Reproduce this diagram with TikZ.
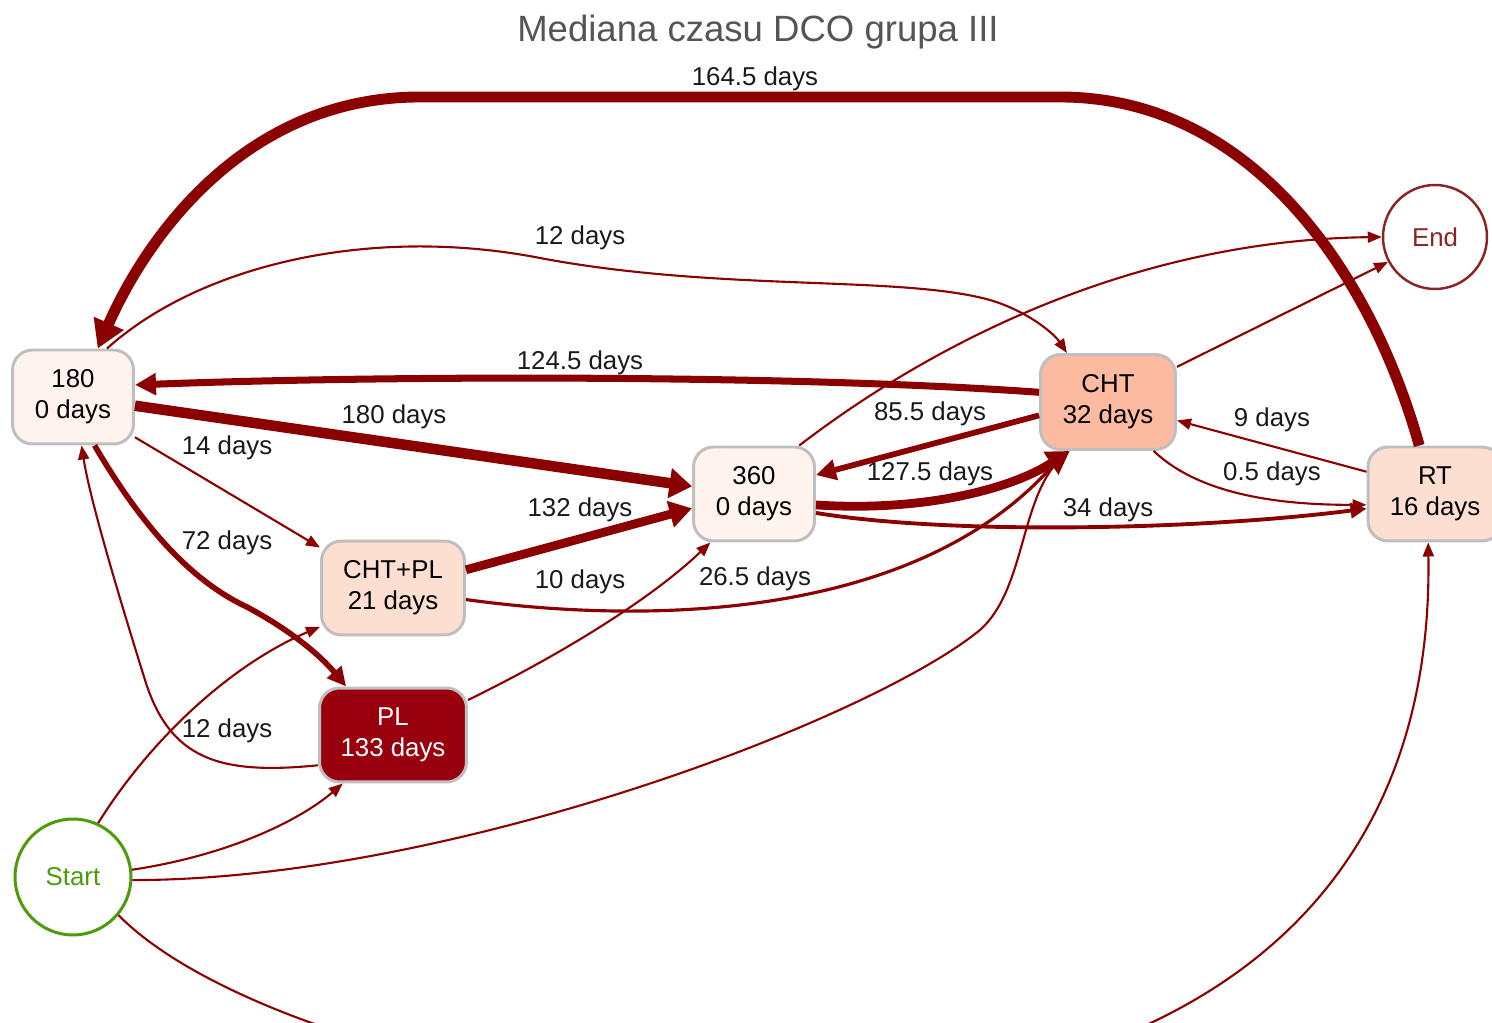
\documentclass[tikz,border=0pt]{standalone}
\usepackage{fontspec}
\setmainfont{Liberation Sans}
\usetikzlibrary{arrows.meta}
\definecolor{edgec}{HTML}{8B0000}
\definecolor{bordergray}{HTML}{BFBFBF}
\definecolor{fillA}{HTML}{FFF3EE}
\definecolor{fillB}{HTML}{FDDFD1}
\definecolor{fillC}{HTML}{FCBAA0}
\definecolor{fillD}{HTML}{99000D}
\definecolor{startgreen}{HTML}{4E9A0A}
\definecolor{endred}{HTML}{8B2525}
\definecolor{titlegray}{HTML}{555555}
\definecolor{labc}{HTML}{1A1A1A}
\newcommand{\nfont}{\fontsize{14.7}{17.6}\selectfont}
\tikzset{
  box/.style={draw=bordergray, line width=1.7pt, rounded corners=0.4cm, minimum width=2.42cm, minimum height=1.88cm, align=center, font=\nfont, inner sep=0pt},
  circ/.style={circle, line width=1.7pt, font=\nfont, inner sep=0pt},
  lab/.style={font=\nfont, text=labc, inner sep=1pt},
  e/.style={draw=edgec, line width=1.2pt, -{Triangle[length=0.28cm,width=0.22cm]}},
  em/.style={draw=edgec, line width=3.3pt, -{Triangle[length=0.4cm,width=0.4cm]}},
  eb/.style={draw=edgec, line width=5pt, -{Triangle[length=0.45cm,width=0.52cm]}}
}
\begin{document}
\begin{tikzpicture}[x=0.02cm,y=-0.02cm]
\useasboundingbox[fill=white] (0,0) rectangle (1492,1023);

\node[text=titlegray, font=\fontsize{20.8}{24}\selectfont] (title) at (758,32) {Mediana czasu DCO grupa III};

% nodes
\node[box, fill=fillA] (n180) at (73,397) {180\\0 days};
\node[box, fill=fillA] (n360) at (754,494) {360\\0 days};
\node[box, fill=fillB, minimum width=2.86cm] (chtpl) at (393,588) {CHT+PL\\21 days};
\node[box, fill=fillD, text=white, minimum width=2.94cm] (pl) at (393,735) {PL\\133 days};
\node[box, fill=fillC, minimum width=2.7cm, minimum height=1.9cm] (cht) at (1108,402) {CHT\\32 days};
\node[box, fill=fillB, minimum width=2.68cm] (rt) at (1435,494) {RT\\16 days};
\node[circ, draw=startgreen, text=startgreen, minimum size=2.32cm] (start) at (73,877) {Start};
\node[circ, draw=endred, text=endred, line width=1.4pt, minimum size=2.08cm] (end) at (1435,237) {End};

% edges
\draw[e, line width=6.2pt, -{Triangle[length=0.55cm,width=0.62cm]}] (rt.108) .. controls (1370,270) and (1250,97) .. (1060,97) -- (420,97) .. controls (250,97) and (150,230) .. (n180.63);
\draw[e] (n180.55) .. controls (200,265) and (370,225) .. (540,258) .. controls (720,292) and (900,275) .. (990,300) .. controls (1030,312) and (1055,335) .. (cht.130);
\draw[e, line width=4pt, -{Triangle[length=0.42cm,width=0.42cm]}] (cht.172) .. controls (800,375) and (400,375) .. (n180.11);
\draw[e, line width=6pt, -{Triangle[length=0.45cm,width=0.58cm]}] (n180.-8) -- (n360.173);
\draw[e] (n180.-33) -- (chtpl.151);
\draw[em, line width=3.2pt, -{Triangle[length=0.38cm,width=0.36cm]}] (n180.-66) .. controls (150,540) and (200,585) .. (247,607) .. controls (290,630) and (320,655) .. (pl.134);
\draw[e] (pl.202) .. controls (220,775) and (170,760) .. (145,680) .. controls (120,600) and (90,500) .. (n180.-80);
\draw[e] (start.65) .. controls (150,740) and (230,665) .. (chtpl.208);
\draw[e] (start.7) .. controls (230,855) and (300,820) .. (pl.224);
\draw[e] (start.-3) .. controls (450,880) and (870,720) .. (980,630) .. controls (1025,590) and (1020,500) .. (cht.231);
\draw[e] (start.-40) .. controls (330,1130) and (1440,1300) .. (rt.-98);
\draw[eb] (chtpl.14) -- (n360.193);
\draw[e, line width=1.8pt, -{Triangle[length=0.3cm,width=0.26cm]}] (chtpl.-9) .. controls (650,625) and (920,620) .. (cht.229);
\draw[e] (pl.25) .. controls (560,655) and (650,600) .. (n360.228);
\draw[e] (n360.47) .. controls (950,330) and (1150,240) .. (end.180);
\draw[e] (cht.27) -- (end.208);
\draw[em] (cht.191) -- (n360.17);
\draw[eb] (n360.-10) .. controls (920,512) and (1010,490) .. (cht.232);
\draw[e, line width=2.2pt, -{Triangle[length=0.32cm,width=0.3cm]}] (n360.-17) .. controls (950,535) and (1200,530) .. (rt.192);
\draw[e] (rt.162) -- (cht.-15);
\draw[e] (cht.-47) .. controls (1200,495) and (1280,505) .. (rt.189);

% labels
\node[lab] (l1) at (755,79) {164.5 days};
\node[lab] (l2) at (580,238) {12 days};
\node[lab] (l3) at (580,363) {124.5 days};
\node[lab] (l4) at (394,417) {180 days};
\node[lab] (l5) at (227,448) {14 days};
\node[lab] (l6) at (227,543) {72 days};
\node[lab] (l7) at (227,731) {12 days};
\node[lab] (l8) at (580,510) {132 days};
\node[lab] (l9) at (580,582) {10 days};
\node[lab] (l10) at (755,579) {26.5 days};
\node[lab] (l11) at (930,414) {85.5 days};
\node[lab] (l12) at (930,474) {127.5 days};
\node[lab] (l13) at (1108,510) {34 days};
\node[lab] (l14) at (1272,420) {9 days};
\node[lab] (l15) at (1272,474) {0.5 days};
\end{tikzpicture}
\end{document}
